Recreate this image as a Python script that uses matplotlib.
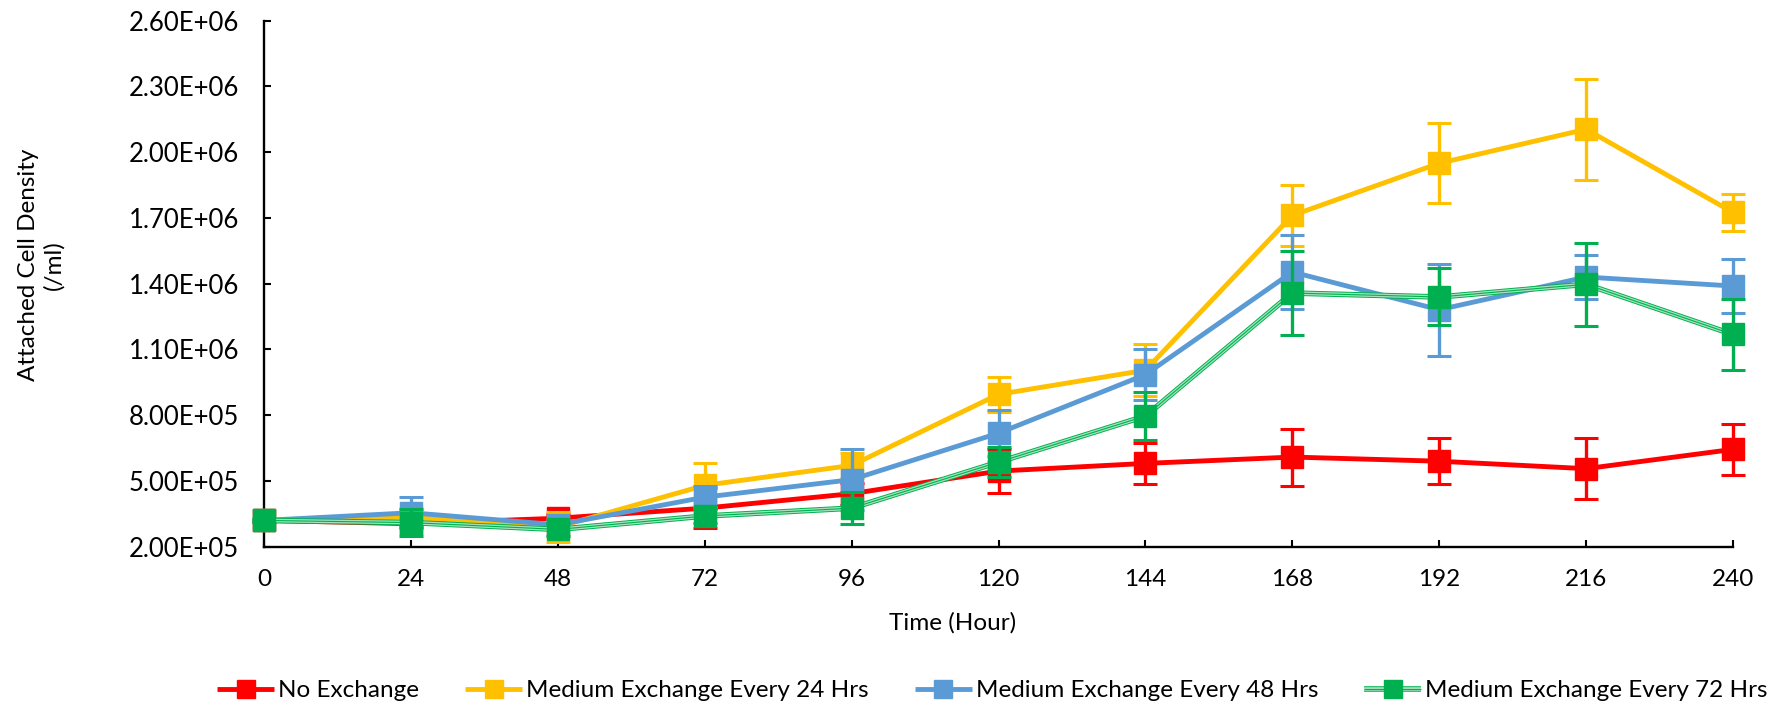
import matplotlib
matplotlib.use("Agg")
import matplotlib.pyplot as plt
import matplotlib.patheffects as pe
from matplotlib.ticker import FuncFormatter, FixedLocator
from matplotlib.legend_handler import HandlerTuple

# Sampling times (hours)
hours = [0, 24, 48, 72, 96, 120, 144, 168, 192, 216, 240]

# Attached cell density (/ml) and standard deviation for each regime
no_exchange = [3.20e5, 3.05e5, 3.30e5, 3.76e5, 4.42e5, 5.45e5, 5.80e5, 6.09e5, 5.90e5, 5.56e5, 6.44e5]
no_exchange_sd = [5e3, 1.5e4, 2e4, 9e4, 5e4, 1.0e5, 9.3e4, 1.3e5, 1.05e5, 1.4e5, 1.18e5]

every_24 = [3.20e5, 3.35e5, 2.90e5, 4.80e5, 5.71e5, 8.95e5, 1.005e6, 1.711e6, 1.949e6, 2.104e6, 1.725e6]
every_24_sd = [5e3, 2e4, 7e4, 1.0e5, 5.6e4, 8e4, 1.18e5, 1.38e5, 1.82e5, 2.3e5, 8.5e4]

every_48 = [3.20e5, 3.55e5, 3.00e5, 4.26e5, 5.06e5, 7.18e5, 9.85e5, 1.453e6, 1.281e6, 1.430e6, 1.389e6]
every_48_sd = [5e3, 7e4, 2e4, 5e4, 1.4e5, 1.04e5, 1.18e5, 1.7e5, 2.1e5, 1.0e5, 1.25e5]

every_72 = [3.20e5, 3.10e5, 2.79e5, 3.40e5, 3.76e5, 5.86e5, 7.96e5, 1.357e6, 1.339e6, 1.397e6, 1.168e6]
every_72_sd = [5e3, 6e4, 3e4, 3e4, 7.4e4, 7e4, 1.08e5, 1.9e5, 1.3e5, 1.9e5, 1.6e5]

series_names = ["No Exchange", "Medium Exchange Every 24 Hrs",
                "Medium Exchange Every 48 Hrs", "Medium Exchange Every 72 Hrs"]
series_values = [no_exchange, every_24, every_48, every_72]
series_sd = [no_exchange_sd, every_24_sd, every_48_sd, every_72_sd]
series_colors = ["#FF0000", "#FFC000", "#5B9BD5", "#00B050"]

y_ticks = [2.0e5, 5.0e5, 8.0e5, 1.1e6, 1.4e6, 1.7e6, 2.0e6, 2.3e6, 2.6e6]

FONT = "Lato"
FS = 17.5
plt.rcParams["font.family"] = [FONT, "DejaVu Sans"]

fig = plt.figure(figsize=(17.78, 7.05), dpi=100)
ax = fig.add_axes([0.1485, 0.2245, 0.9747 - 0.1485, 0.9709 - 0.2245])

handles = []
for i, (name, vals, sd, col) in enumerate(zip(series_names, series_values, series_sd, series_colors)):
    z = 3 + i
    ax.errorbar(hours, vals, yerr=sd, fmt="none", ecolor=col, elinewidth=2.4,
                capsize=8.5, capthick=2.2, zorder=z, clip_on=False)
    if i == 3:
        # compound (triple) stroke for the 72 h regime
        line, = ax.plot(hours, vals, color=col, lw=0.8, zorder=z + 0.1,
                        solid_capstyle="butt", clip_on=False,
                        path_effects=[pe.Stroke(linewidth=4.0, foreground=col),
                                      pe.Stroke(linewidth=2.6, foreground="#a6e3bc"),
                                      pe.Normal()])
    else:
        line, = ax.plot(hours, vals, color=col, lw=3.5, zorder=z + 0.1,
                        solid_capstyle="butt", clip_on=False)
    marks, = ax.plot(hours, vals, ls="none", marker="s", ms=15.8, color=col,
                     mec=col, zorder=z + 0.2, clip_on=False)
    handles.append((line, marks))

ax.set_xlim(0, 240)
ax.set_ylim(2.0e5, 2.6e6)
ax.xaxis.set_major_locator(FixedLocator(hours))
ax.yaxis.set_major_locator(FixedLocator(y_ticks))
ax.yaxis.set_major_formatter(FuncFormatter(lambda v, p: f"{v:.2E}"))

for side in ("top", "right"):
    ax.spines[side].set_visible(False)
for side in ("left", "bottom"):
    ax.spines[side].set_linewidth(1.7)
    ax.spines[side].set_color("black")
    ax.spines[side].set_zorder(2)

ax.tick_params(axis="both", direction="in", length=5.3, width=1.5,
               labelsize=FS, colors="black")
ax.tick_params(axis="y", pad=18, labelsize=18.5)
ax.tick_params(axis="x", pad=16)

fig.text(953 / 1778, 1 - 623 / 705, "Time (Hour)", ha="center", va="center",
         fontsize=FS, color="black")
fig.text(41 / 1778, 1 - 265 / 705, "Attached Cell Density\n(/ml)", ha="center",
         va="center", rotation=90, multialignment="center", fontsize=FS,
         color="black", linespacing=1.25)

fig.legend(handles, series_names, loc="center", bbox_to_anchor=(0.5582, 0.0203),
           ncol=4, frameon=False, fontsize=FS, handlelength=2.35,
           handletextpad=0.15, columnspacing=1.9, borderpad=0, markerscale=0.79,
           handler_map={tuple: HandlerTuple(ndivide=1, pad=0)})

fig.savefig("out.png", dpi=100)
